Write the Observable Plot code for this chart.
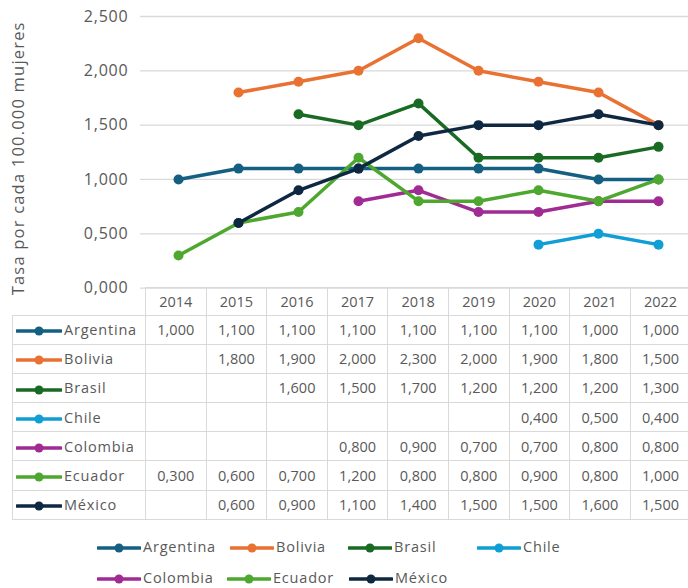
<!DOCTYPE html>
<html><head><meta charset="utf-8">
<script src="https://cdn.jsdelivr.net/npm/d3@7"></script>
<script src="https://cdn.jsdelivr.net/npm/@observablehq/plot@0.6"></script>
<style>
body{margin:0;background:#fff;}
#wrap{position:relative;width:688px;height:588px;overflow:hidden;font-family:"Open Sans",sans-serif;color:#595959;}
#chart{position:absolute;left:0;top:0;}
#chart text{letter-spacing:0.8px;}
#chart .ytitle text{letter-spacing:1.2px;}
#tbl{position:absolute;left:12px;top:287px;border-collapse:collapse;table-layout:fixed;width:678.4px;}
#tbl td{border:1px solid #d9d9d9;text-align:center;font-size:14.5px;padding:0;white-space:nowrap;overflow:hidden;}
#tbl tr.hd td{height:26.5px;}
#tbl tr.rw td{height:28.2px;}
#tbl td.blank{border-top:none;border-left:none;}
#tbl td.lab{text-align:left;padding-left:3px;letter-spacing:0.8px;}
.sym{display:inline-block;vertical-align:middle;margin-right:2px;}
.lg{position:absolute;font-size:14.5px;letter-spacing:0.8px;white-space:nowrap;line-height:20px;}
</style>
</head><body>
<div id="wrap"><div id="chart"></div><table id="tbl"></table></div>
<script>
const years = [2014, 2015, 2016, 2017, 2018, 2019, 2020, 2021, 2022];
const countries = ["Argentina", "Bolivia", "Brasil", "Chile", "Colombia", "Ecuador", "México"];
const argentina = [1.0, 1.1, 1.1, 1.1, 1.1, 1.1, 1.1, 1.0, 1.0];
const bolivia   = [null, 1.8, 1.9, 2.0, 2.3, 2.0, 1.9, 1.8, 1.5];
const brasil    = [null, null, 1.6, 1.5, 1.7, 1.2, 1.2, 1.2, 1.3];
const chile     = [null, null, null, null, null, null, 0.4, 0.5, 0.4];
const colombia  = [null, null, null, 0.8, 0.9, 0.7, 0.7, 0.8, 0.8];
const ecuador   = [0.3, 0.6, 0.7, 1.2, 0.8, 0.8, 0.9, 0.8, 1.0];
const mexico    = [null, 0.6, 0.9, 1.1, 1.4, 1.5, 1.5, 1.6, 1.5];
const yTicks = [0, 0.5, 1, 1.5, 2, 2.5];
const yTitle = "Tasa por cada 100.000 mujeres";

const seriesValues = [argentina, bolivia, brasil, chile, colombia, ecuador, mexico];
const colors = ["#156082", "#E97132", "#196B24", "#0F9ED5", "#A02B93", "#4EA72E", "#0E2841"];
const fmt = v => v.toFixed(3).replace(".", ",");
const rows = vals => years.map((y, i) => ({year: y, value: vals[i]})).filter(d => d.value != null);

const chart = Plot.plot({
  width: 688, height: 300,
  marginTop: 16, marginBottom: 12.4, marginLeft: 140, marginRight: 0,
  style: {fontFamily: "Open Sans", fontSize: "16px", color: "#595959", background: "transparent"},
  x: {type: "point", domain: years, range: [175.3, 660.2], padding: 0, axis: null},
  y: {domain: [0, 2.5]},
  marks: [
    Plot.gridY(yTicks, {stroke: "#d9d9d9", strokeOpacity: 1, strokeWidth: 1.3}),
    Plot.axisY(yTicks, {tickSize: 0, tickPadding: 12, tickFormat: fmt, fontSize: 16, label: null}),
    ...seriesValues.flatMap((vals, i) => [
      Plot.line(rows(vals), {x: "year", y: "value", stroke: colors[i], strokeWidth: 3.5}),
      Plot.dot(rows(vals), {x: "year", y: "value", fill: colors[i], r: 5})
    ]),
    Plot.text([yTitle], {frameAnchor: "left", textAnchor: "middle", dx: -122, dy: 6, rotate: -90, text: d => d, fontSize: 16.5, fill: "#595959", className: "ytitle"})
  ]
});
document.getElementById("chart").appendChild(chart);

function symbol(color, w) {
  const c = w / 2;
  return `<svg class="sym" width="${w}" height="12"><line x1="1" x2="${w - 1}" y1="6" y2="6" stroke="${color}" stroke-width="3.4" stroke-linecap="round"/><circle cx="${c}" cy="6" r="4.5" fill="${color}"/></svg>`;
}

// table
let html = `<colgroup><col style="width:133px">${years.map(() => '<col style="width:60.6px">').join("")}</colgroup>`;
html += `<tr class="hd"><td class="blank"></td>${years.map(y => `<td>${y}</td>`).join("")}</tr>`;
countries.forEach((c, i) => {
  html += `<tr class="rw"><td class="lab">${symbol(colors[i], 46)}${c}</td>${seriesValues[i].map(v => `<td>${v == null ? "" : fmt(v)}</td>`).join("")}</tr>`;
});
document.getElementById("tbl").innerHTML = html;

// legend
const legendPos = [[97, 537], [230, 537], [348, 537], [477, 537], [97, 568], [227, 568], [349, 568]];
const wrap = document.getElementById("wrap");
countries.forEach((c, i) => {
  const d = document.createElement("div");
  d.className = "lg";
  d.style.left = legendPos[i][0] + "px";
  d.style.top = legendPos[i][1] + "px";
  d.innerHTML = symbol(colors[i], 44) + c;
  wrap.appendChild(d);
});
</script>
</body></html>
